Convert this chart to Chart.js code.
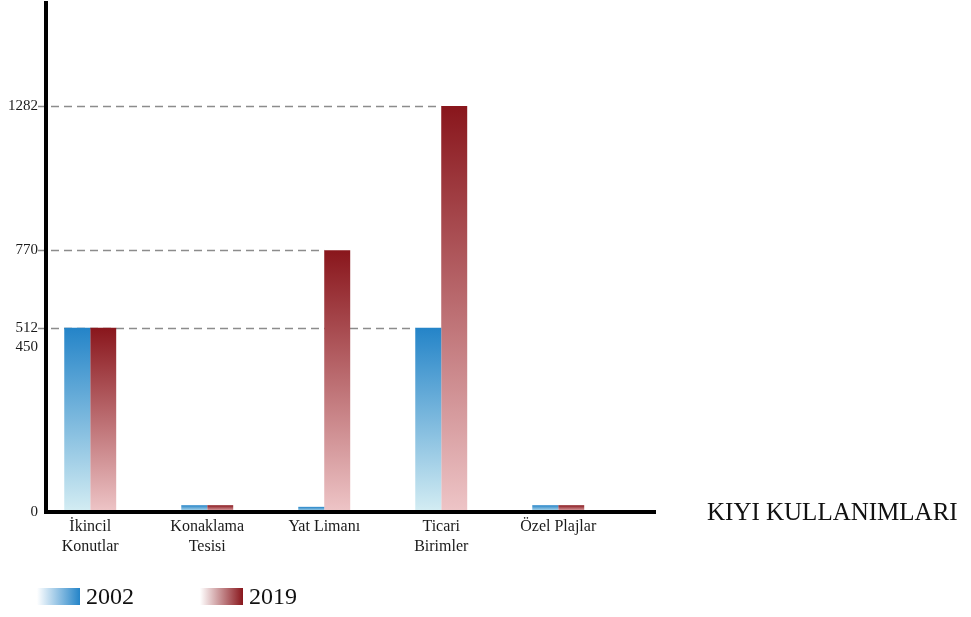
<!DOCTYPE html>
<html>
<head>
<meta charset="utf-8">
<script src="https://cdn.jsdelivr.net/npm/chart.js@4.4.1/dist/chart.umd.min.js"></script>
<style>
html,body{margin:0;padding:0;background:#ffffff;}
#wrap{width:971px;height:617px;position:relative;}
</style>
</head>
<body>
<div id="wrap"><canvas id="c" width="971" height="617"></canvas></div>
<script>
// ---- data ----
const categories = [["İkincil", "Konutlar"], ["Konaklama", "Tesisi"], "Yat Limanı", ["Ticari", "Birimler"], "Özel Plajlar"];
const values2002 = [512, 11, 8, 512, 11];
const values2019 = [512, 11, 770, 1282, 11];
const yTickValues = [0, 450, 512, 770, 1282];
const seriesNames = ["2002", "2019"];
const axisTitle = "KIYI KULLANIMLARI";

// ---- style ----
const SERIF = '"Liberation Serif", "Times New Roman", "DejaVu Serif", serif';
const BLUE_TOP = 'rgb(36,132,200)', BLUE_BOTTOM = 'rgb(212,237,243)';
const RED_TOP = 'rgb(137,22,28)', RED_BOTTOM = 'rgb(238,197,199)';
const EXP = 0.86;

// A power-law value axis (the original axis is compressed towards the top)
class PowerScale extends Chart.LinearScale {
  static id = 'power';
  static defaults = {};
  _f(v) { return Math.sign(v) * Math.pow(Math.abs(v), EXP); }
  getPixelForValue(value) {
    if (value === null || value === undefined || isNaN(value)) return NaN;
    const a = this._f(this.min), b = this._f(this.max);
    return this.getPixelForDecimal((this._f(value) - a) / (b - a));
  }
  getValueForPixel(pixel) {
    const a = this._f(this.min), b = this._f(this.max);
    const t = a + this.getDecimalForPixel(pixel) * (b - a);
    return Math.sign(t) * Math.pow(Math.abs(t), 1 / EXP);
  }
}
Chart.register(PowerScale);

function barGradient(top, bottom) {
  return (ctx) => {
    const chart = ctx.chart;
    if (!chart.chartArea || ctx.type !== 'data') return top;
    const y = chart.scales.y;
    const raw = ctx.raw;
    const v = raw && typeof raw === 'object' ? raw.y : raw;
    const yTop = y.getPixelForValue(v), yBot = y.getPixelForValue(0);
    if (!isFinite(yTop) || !isFinite(yBot) || Math.abs(yBot - yTop) < 0.5) return top;
    const g = chart.ctx.createLinearGradient(0, yTop, 0, yBot);
    g.addColorStop(0, top);
    g.addColorStop(1, bottom);
    return g;
  };
}

// dashed reference lines from the axis to the bar that reaches that value
const refLines = {
  id: 'refLines',
  beforeDatasetsDraw(chart) {
    const {ctx, chartArea, scales: {y}} = chart;
    ctx.save();
    ctx.setLineDash([8, 5]);
    ctx.strokeStyle = '#8c8c8c';
    ctx.lineWidth = 1.5;
    yTickValues.forEach(v => {
      let endX = null;
      chart.data.datasets.forEach((ds, di) => {
        const meta = chart.getDatasetMeta(di);
        ds.data.forEach((p, i) => {
          if (p.y === v) {
            const el = meta.data[i];
            const left = el.x - el.width / 2;
            if (endX === null || left > endX) endX = left;
          }
        });
      });
      if (endX === null) return;
      const py = Math.round(y.getPixelForValue(v)) + 0.5;
      ctx.beginPath();
      ctx.moveTo(chartArea.left - 8, py);
      ctx.lineTo(endX, py);
      ctx.stroke();
    });
    ctx.restore();
  }
};

// axis title to the right and gradient legend at the bottom
const extras = {
  id: 'extras',
  afterDraw(chart) {
    const {ctx, chartArea, scales: {y}} = chart;
    ctx.save();
    ctx.fillStyle = '#111';
    ctx.font = '25px ' + SERIF;
    ctx.textAlign = 'left';
    ctx.textBaseline = 'middle';
    ctx.fillText(axisTitle, chartArea.right + 52, y.getPixelForValue(0) + 1);

    const tops = [BLUE_TOP, RED_TOP];
    let x = 37;
    const sy = 588, sw = 43, sh = 17;
    ctx.font = '24px ' + SERIF;
    seriesNames.forEach((name, i) => {
      const g = ctx.createLinearGradient(x, 0, x + sw, 0);
      g.addColorStop(0, 'rgba(255,255,255,1)');
      g.addColorStop(1, tops[i]);
      ctx.fillStyle = g;
      ctx.fillRect(x, sy, sw, sh);
      ctx.fillStyle = '#111';
      ctx.fillText(name, x + sw + 6, sy + sh / 2 + 1);
      x += sw + 6 + ctx.measureText(name).width + 66;
    });
    ctx.restore();
  }
};

new Chart(document.getElementById('c'), {
  type: 'bar',
  data: {
    datasets: [
      { label: seriesNames[0], data: values2002.map((v, i) => ({x: i, y: v})),
        backgroundColor: barGradient(BLUE_TOP, BLUE_BOTTOM), borderWidth: 0,
        barPercentage: 1, categoryPercentage: 0.444 },
      { label: seriesNames[1], data: values2019.map((v, i) => ({x: i, y: v})),
        backgroundColor: barGradient(RED_TOP, RED_BOTTOM), borderWidth: 0,
        barPercentage: 1, categoryPercentage: 0.444 }
    ]
  },
  options: {
    responsive: false,
    animation: false,
    layout: { padding: { left: 0, right: 316, top: 3, bottom: 0 } },
    plugins: { legend: { display: false }, tooltip: { enabled: false } },
    scales: {
      x: {
        type: 'linear', min: -0.378, max: 4.827, offset: false,
        grid: { display: false, drawTicks: false },
        border: { display: true, color: '#000', width: 4, z: 1 },
        afterBuildTicks: s => { s.ticks = categories.map((c, i) => ({ value: i })); },
        ticks: {
          autoSkip: false, maxRotation: 0, padding: 5, color: '#1a1a1a',
          font: { family: SERIF, size: 16, lineHeight: 1.25 },
          callback: v => categories[v]
        },
        afterFit: s => { s.height = 105; s.paddingLeft = 0; s.paddingRight = 0; }
      },
      y: {
        type: 'power', min: 0, max: 1668,
        grid: { display: false, drawTicks: false },
        border: { display: true, color: '#000', width: 4, z: 1 },
        afterBuildTicks: s => { s.ticks = yTickValues.map(v => ({ value: v })); },
        ticks: {
          autoSkip: false, padding: 8, color: '#1a1a1a',
          font: { family: SERIF, size: 15 },
          callback: v => String(v)
        },
        afterFit: s => { s.width = 46; s.paddingTop = 0; s.paddingBottom = 0; }
      }
    }
  },
  plugins: [refLines, extras]
});
</script>
</body>
</html>
